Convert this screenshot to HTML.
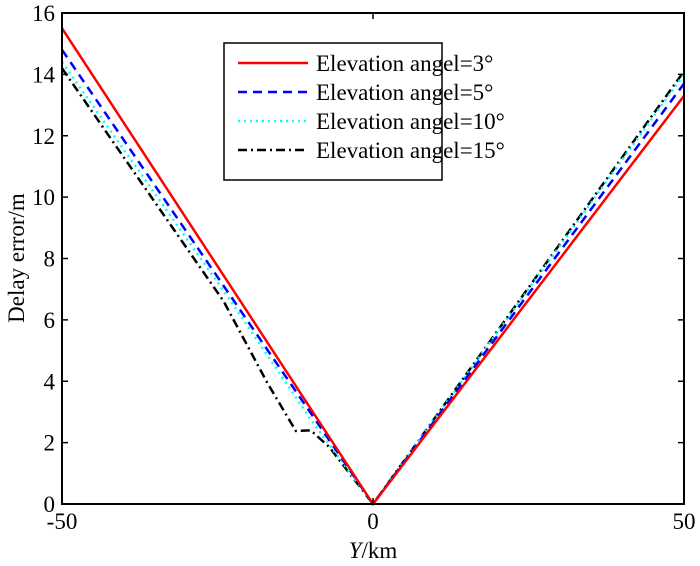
<!DOCTYPE html>
<html><head><meta charset="utf-8"><style>
body{margin:0;background:#fff;}
svg{display:block;font-family:"Liberation Serif",serif;}
</style></head><body>
<svg id="chart" width="700" height="566"></svg>
<script>
const xTicks=[-50,0,50];
const yTicks=[0,2,4,6,8,10,12,14,16];
const seriesNames=["Elevation angel=3°","Elevation angel=5°","Elevation angel=10°","Elevation angel=15°"];
const redX=[-50,0,50];
const redY=[15.5,0,13.3];
const blueX=[-50,0,50];
const blueY=[14.8,0,13.7];
const cyanX=[-50,-23,-10,0,50];
const cyanY=[14.4,6.65,2.75,0,14.0];
const blackX=[-50,-24,-17,-12.4,-10,-7,0,50];
const blackY=[14.2,6.6,3.95,2.38,2.4,1.85,0,14.1];

const L=62,R=684,T=13,B=504;
const sx=v=>L+(v+50)/100*(R-L);
const sy=v=>B-v/16*(B-T);
const NS="http://www.w3.org/2000/svg";
const svg=document.getElementById('chart');
function mk(t,a,p){const e=document.createElementNS(NS,t);for(const k in a)e.setAttribute(k,a[k]);(p||svg).appendChild(e);return e;}

const series=[
 {x:redX,y:redY,c:"#ff0000",d:"",n:"series-3deg"},
 {x:blueX,y:blueY,c:"#0000ff",d:"9,6",n:"series-5deg"},
 {x:cyanX,y:cyanY,c:"#00ffff",d:"2,4",n:"series-10deg"},
 {x:blackX,y:blackY,c:"#000000",d:"9,4,2,4",n:"series-15deg"}
];
for(let i=series.length-1;i>=0;i--){
 const s=series[i];
 const pts=s.x.map((v,j)=>sx(v)+","+sy(s.y[j])).join(" ");
 const pl=mk('polyline',{points:pts,fill:"none",stroke:s.c,"stroke-width":2.5,"stroke-dasharray":s.d});
 
 
}
const frame=mk('rect',{x:L,y:T,width:R-L,height:B-T,fill:"none",stroke:"#000","stroke-width":2});


yTicks.forEach(v=>{
 mk('line',{x1:L,x2:L+6,y1:sy(v),y2:sy(v),stroke:"#000","stroke-width":1.5});
 mk('line',{x1:R,x2:R-6,y1:sy(v),y2:sy(v),stroke:"#000","stroke-width":1.5});
 const t=mk('text',{x:L-7,y:sy(v)+8,"text-anchor":"end","font-size":23});
 t.textContent=v;
 
 
});
xTicks.forEach(v=>{
 mk('line',{x1:sx(v),x2:sx(v),y1:B,y2:B-6,stroke:"#000","stroke-width":1.5});
 mk('line',{x1:sx(v),x2:sx(v),y1:T,y2:T+6,stroke:"#000","stroke-width":1.5});
 const t=mk('text',{x:sx(v),y:529,"text-anchor":"middle","font-size":23});
 t.textContent=v;
 
 
});
const xl=mk('text',{x:373,y:558,"text-anchor":"middle","font-size":23});
xl.innerHTML='<tspan font-style="italic">Y</tspan>/km';


const yl=mk('text',{x:0,y:0,"text-anchor":"middle","font-size":23,transform:"translate(24,258) rotate(-90)"});
yl.textContent="Delay error/m";



const lg=mk('g',{});


mk('rect',{x:224,y:43,width:218,height:137,fill:"#fff",stroke:"#000","stroke-width":1.5},lg);
series.forEach((s,i)=>{
 const y=63+i*29;
 const g=mk('g',{},lg);
 
 
 mk('line',{x1:238,x2:308,y1:y,y2:y,stroke:s.c,"stroke-width":2.5,"stroke-dasharray":s.d},g);
 const t=mk('text',{x:316,y:y+8,"font-size":23},g);
 t.textContent=seriesNames[i];
});
</script>
</body></html>
